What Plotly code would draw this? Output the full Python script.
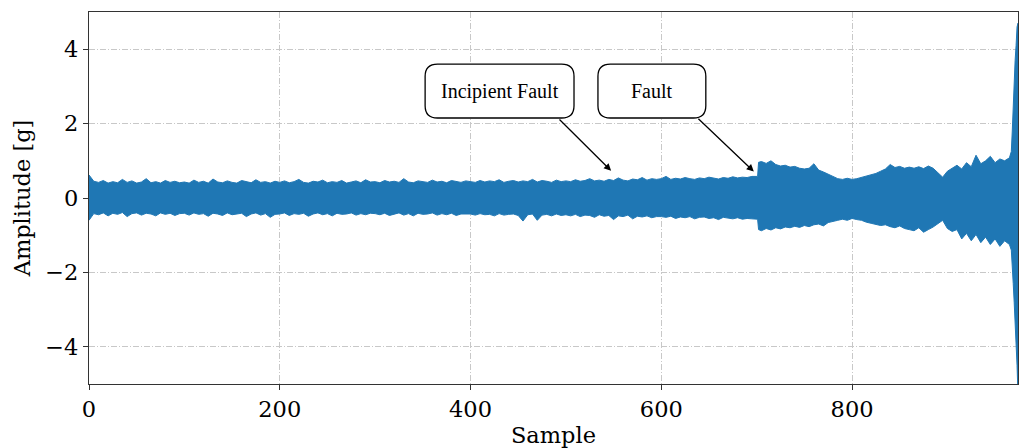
import plotly.graph_objects as go

# ---- data (envelope of the vibration signal) ----
samples = list(range(0, 700, 5)) + [701, 702] + list(range(705, 966, 5)) + [967, 968, 969, 970, 971, 972, 973, 974]

upper_g = [
    # 0-95
    0.62, 0.45, 0.42, 0.47, 0.40, 0.44, 0.41, 0.50, 0.42, 0.46, 0.40, 0.43, 0.52, 0.41, 0.44, 0.40, 0.47, 0.42, 0.45, 0.41,
    # 100-195
    0.43, 0.40, 0.48, 0.42, 0.45, 0.40, 0.51, 0.43, 0.41, 0.46, 0.42, 0.40, 0.47, 0.43, 0.41, 0.49, 0.42, 0.44, 0.40, 0.45,
    # 200-295
    0.42, 0.46, 0.41, 0.44, 0.50, 0.42, 0.40, 0.45, 0.43, 0.48, 0.41, 0.44, 0.42, 0.47, 0.40, 0.43, 0.46, 0.41, 0.49, 0.43,
    # 300-395
    0.44, 0.41, 0.47, 0.43, 0.45, 0.42, 0.52, 0.43, 0.41, 0.46, 0.44, 0.42, 0.48, 0.43, 0.45, 0.41, 0.47, 0.44, 0.42, 0.46,
    # 400-495
    0.45, 0.42, 0.47, 0.43, 0.46, 0.44, 0.49, 0.42, 0.45, 0.47, 0.43, 0.46, 0.44, 0.50, 0.43, 0.47, 0.45, 0.42, 0.48, 0.44,
    # 500-595
    0.46, 0.44, 0.49, 0.45, 0.47, 0.52, 0.46, 0.48, 0.45, 0.50, 0.47, 0.54, 0.48, 0.46, 0.51, 0.49, 0.55, 0.48, 0.52, 0.50,
    # 600-695
    0.52, 0.58, 0.50, 0.53, 0.51, 0.55, 0.52, 0.50, 0.54, 0.52, 0.56, 0.53, 0.51, 0.55, 0.53, 0.57, 0.54, 0.56, 0.55, 0.58,
    # 701, 702
    0.58, 0.96,
    # 705-795
    0.98, 0.93, 1.00, 0.90, 0.86, 0.88, 0.83, 0.85, 0.80, 0.78, 0.80, 0.92, 0.75, 0.70, 0.65, 0.58, 0.52, 0.50, 0.53,
    # 800-965
    0.50, 0.52, 0.55, 0.58, 0.62, 0.66, 0.72, 0.78, 0.90, 0.82, 0.85, 0.80, 0.83, 0.80, 0.84, 0.79, 0.86, 0.80, 0.68, 0.56,
    0.72, 0.80, 0.88, 0.78, 0.95, 0.84, 1.15, 0.92, 1.00, 1.12, 0.95, 1.05, 1.00, 1.08,
    # 967-974
    1.25, 1.8, 2.5, 3.4, 3.7, 4.1, 4.6, 4.7,
]

lower_g = [
    # 0-95
    -0.60, -0.42, -0.45, -0.40, -0.48, -0.41, -0.44, -0.39, -0.50, -0.42, -0.40, -0.46, -0.41, -0.43, -0.48, -0.40, -0.44, -0.41, -0.47, -0.42,
    # 100-195
    -0.41, -0.46, -0.40, -0.44, -0.42, -0.49, -0.41, -0.43, -0.47, -0.40, -0.45, -0.42, -0.41, -0.50, -0.43, -0.40, -0.46, -0.42, -0.52, -0.44,
    # 200-295
    -0.43, -0.40, -0.47, -0.42, -0.44, -0.41, -0.49, -0.43, -0.40, -0.45, -0.42, -0.48, -0.41, -0.44, -0.43, -0.40, -0.46, -0.42, -0.45, -0.41,
    # 300-395
    -0.42, -0.45, -0.41, -0.47, -0.43, -0.40, -0.46, -0.42, -0.48, -0.41, -0.44, -0.43, -0.40, -0.46, -0.42, -0.45, -0.41, -0.47, -0.43, -0.44,
    # 400-495
    -0.43, -0.46, -0.42, -0.45, -0.44, -0.48, -0.42, -0.46, -0.44, -0.43, -0.47, -0.62, -0.45, -0.43, -0.60, -0.46, -0.44, -0.48, -0.43, -0.47,
    # 500-595
    -0.45, -0.48, -0.44, -0.50, -0.46, -0.47, -0.52, -0.45, -0.49, -0.47, -0.58, -0.48, -0.50, -0.46, -0.56, -0.49, -0.51, -0.48, -0.53, -0.50,
    # 600-695
    -0.50, -0.52, -0.49, -0.55, -0.51, -0.53, -0.50, -0.56, -0.52, -0.51, -0.55, -0.53, -0.58, -0.52, -0.54, -0.56, -0.53, -0.57, -0.55, -0.56,
    # 701, 702
    -0.57, -0.85,
    # 705-795
    -0.88, -0.82, -0.86, -0.80, -0.83, -0.78, -0.80, -0.76, -0.79, -0.74, -0.77, -0.72, -0.70, -0.75, -0.66, -0.62, -0.60, -0.57, -0.60,
    # 800-965
    -0.55, -0.58, -0.60, -0.65, -0.68, -0.70, -0.74, -0.72, -0.77, -0.80, -0.75, -0.82, -0.85, -0.88, -0.80, -0.92, -0.85, -0.78, -0.70, -0.60,
    -0.82, -0.90, -0.85, -1.10, -0.95, -1.15, -0.98, -1.20, -1.05, -1.25, -1.10, -1.30, -1.15, -1.25,
    # 967-974
    -1.4, -1.8, -2.3, -2.8, -3.3, -3.8, -4.5, -5.3,
]

x_ticks = [0, 200, 400, 600, 800]
x_tick_labels = ["0", "200", "400", "600", "800"]
y_ticks = [-4, -2, 0, 2, 4]
y_tick_labels = ["\u22124", "\u22122", "0", "2", "4"]

BLUE = "#1f77b4"
SERIF = "DejaVu Serif"
TIMES = "Liberation Serif"

fig = go.Figure()
fig.add_trace(go.Scatter(
    x=samples + samples[::-1],
    y=upper_g + lower_g[::-1],
    mode="lines",
    fill="toself",
    fillcolor=BLUE,
    line=dict(color=BLUE, width=1),
    hoverinfo="skip",
    showlegend=False,
))


def rounded_box(x0, x1, y0, y1, rx, ry):
    return (f"M {x0+rx},{y0} L {x1-rx},{y0} Q {x1},{y0} {x1},{y0+ry} "
            f"L {x1},{y1-ry} Q {x1},{y1} {x1-rx},{y1} "
            f"L {x0+rx},{y1} Q {x0},{y1} {x0},{y1-ry} "
            f"L {x0},{y0+ry} Q {x0},{y0} {x0+rx},{y0} Z")


rx, ry = 13.0, 0.33
boxes = [
    (352.4, 508.5, 2.15, 3.60),
    (533.6, 646.7, 2.15, 3.60),
]
for (bx0, bx1, by0, by1) in boxes:
    fig.add_shape(type="path", xref="x", yref="y",
                  path=rounded_box(bx0, bx1, by0, by1, rx, ry),
                  line=dict(color="black", width=1.3),
                  fillcolor="white", layer="above")

labels = [("Incipient Fault", 430.4, 2.87), ("Fault", 590.2, 2.87)]
for txt, tx, ty in labels:
    fig.add_annotation(x=tx, y=ty, xref="x", yref="y", text=txt, showarrow=False,
                       font=dict(family=TIMES, size=20, color="black"))

arrows = [((491.7, 2.15), (547.4, 0.73)), ((637.3, 2.17), (697.0, 0.71))]
for (sx, sy), (ex, ey) in arrows:
    fig.add_annotation(x=ex, y=ey, ax=sx, ay=sy, xref="x", yref="y",
                       axref="x", ayref="y", text="", showarrow=True,
                       arrowhead=2, arrowsize=1.1, arrowwidth=1.3,
                       arrowcolor="black", standoff=0, startstandoff=0)

grid = dict(showgrid=True, gridcolor="#c8c8c8", gridwidth=0.8, griddash="6px,2px,1px,2px")

fig.update_xaxes(
    range=[0, 974], tickvals=x_ticks, ticktext=x_tick_labels,
    ticks="outside", ticklen=5, tickwidth=1, tickcolor="#333333",
    showline=True, linecolor="#333333", linewidth=1.2, mirror=True,
    zeroline=False,
    tickfont=dict(family=SERIF, size=22.5, color="black"),
    title=dict(text="Sample", font=dict(family=SERIF, size=22.5, color="black"), standoff=6),
    **grid,
)
fig.update_yaxes(
    range=[-5, 5], tickvals=y_ticks, ticktext=y_tick_labels,
    ticks="outside", ticklen=5, tickwidth=1, tickcolor="#333333",
    showline=True, linecolor="#333333", linewidth=1.2, mirror=True,
    zeroline=False,
    tickfont=dict(family=SERIF, size=22.5, color="black"),
    title=dict(text="Amplitude [g]", font=dict(family=SERIF, size=22.5, color="black"), standoff=8),
    **grid,
)

fig.update_layout(
    width=1020, height=448,
    margin=dict(l=89, r=2, t=12, b=64),
    plot_bgcolor="white", paper_bgcolor="white",
    showlegend=False,
)

fig.write_html("out.html")
